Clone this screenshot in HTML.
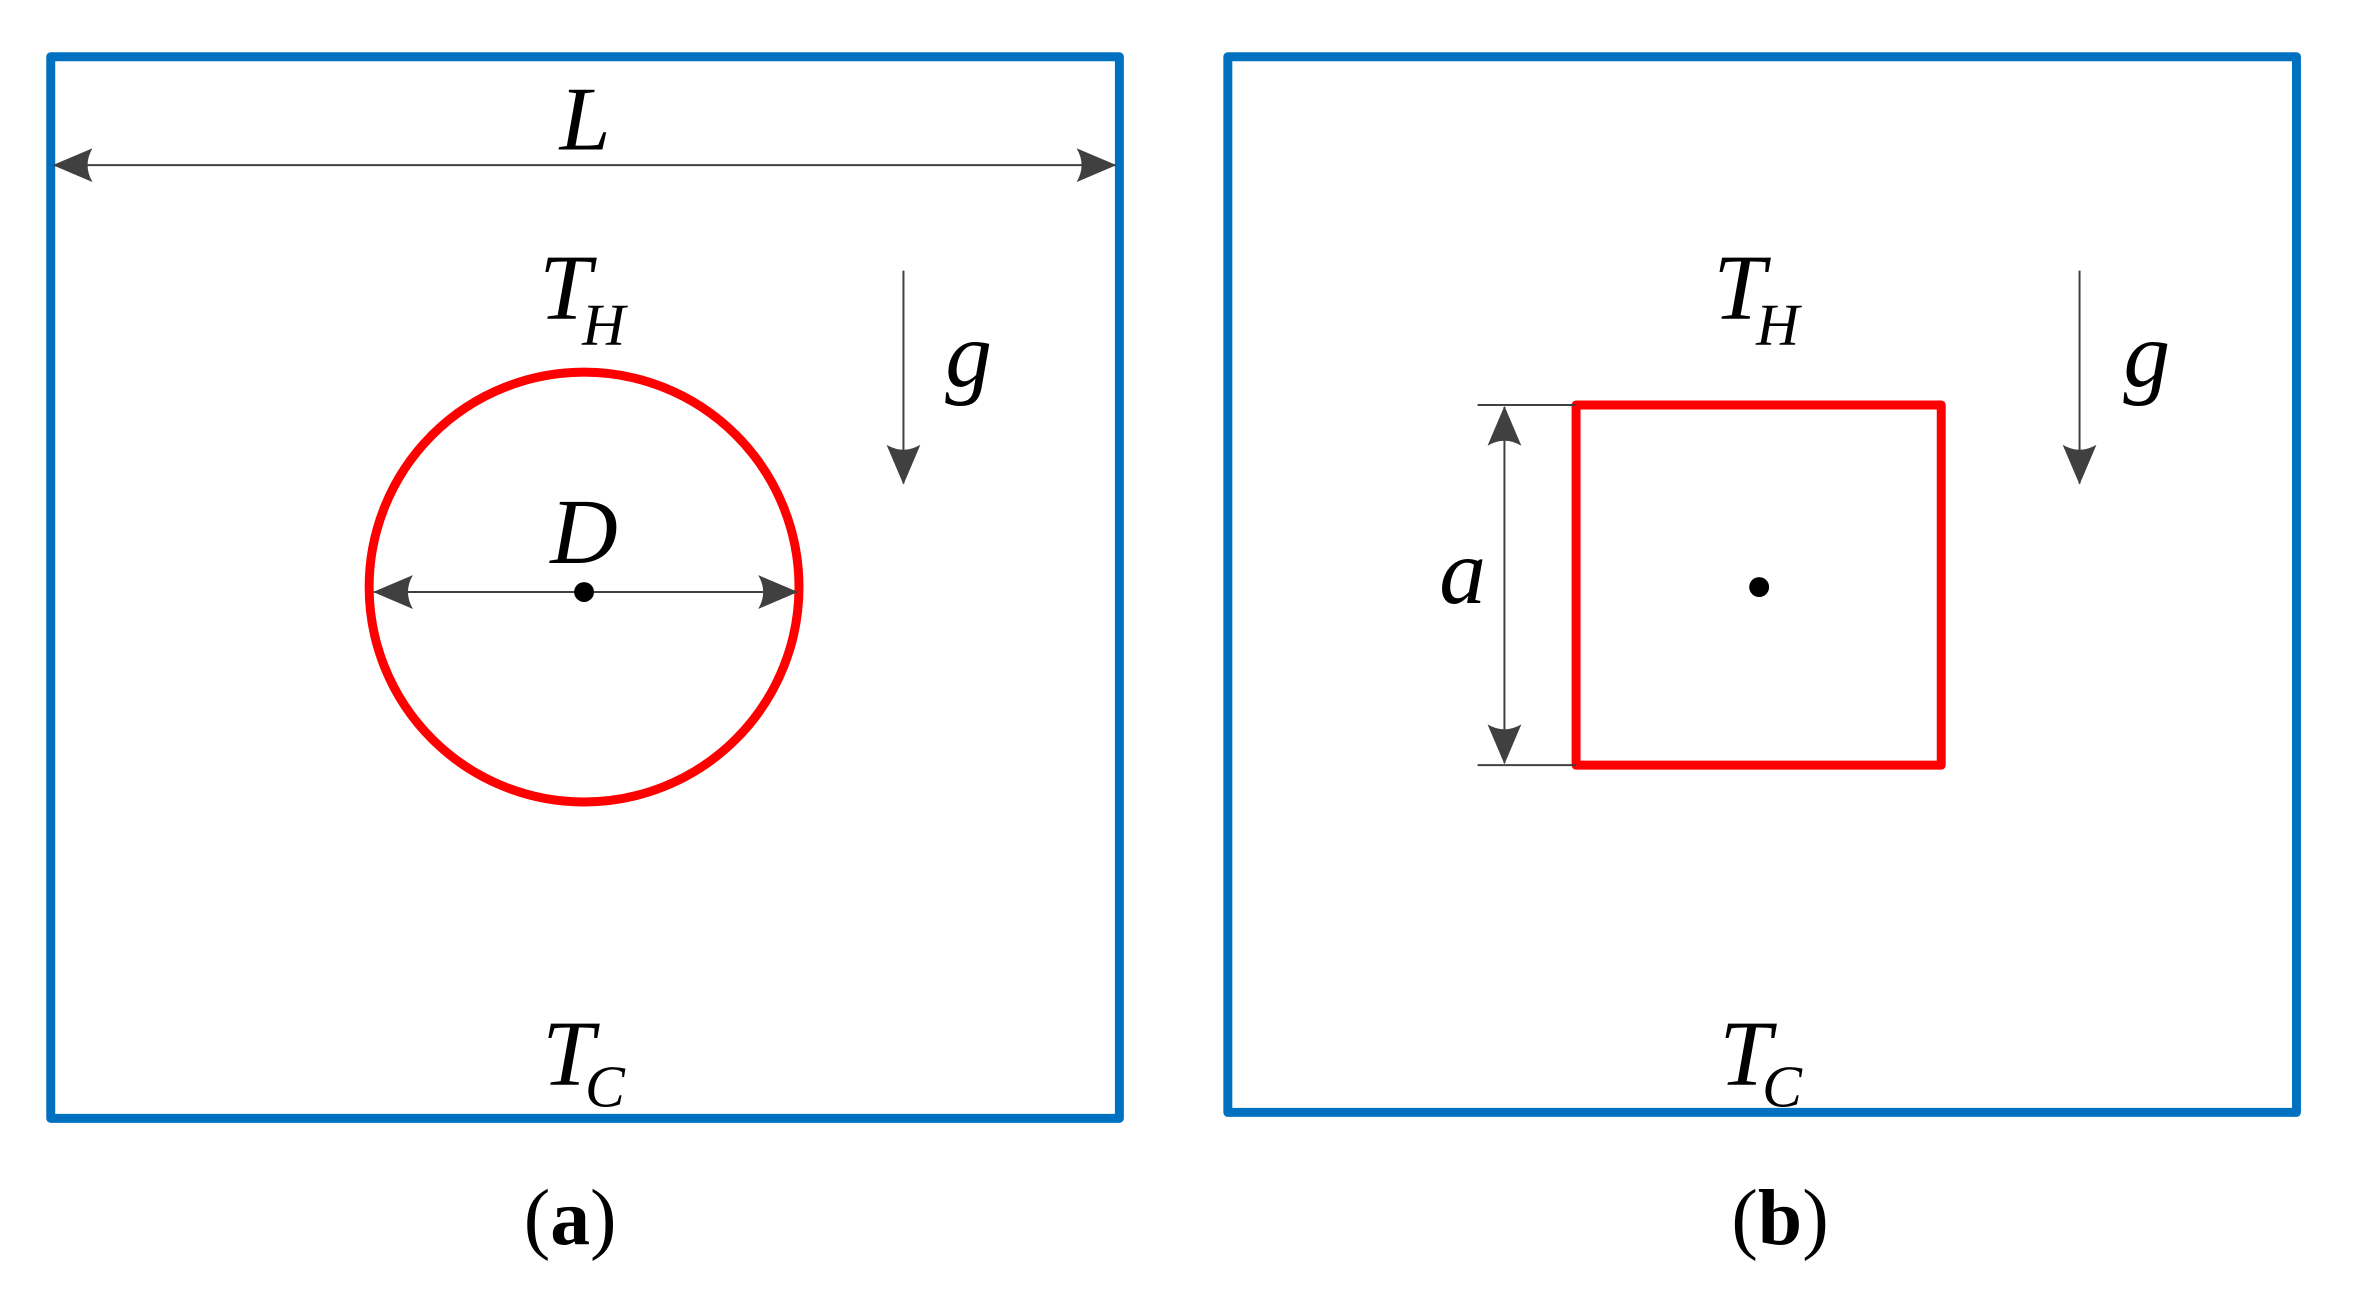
<!DOCTYPE html>
<html><head><meta charset="utf-8"><style>html,body{margin:0;padding:0;background:#fff}svg{display:block}</style></head>
<body>
<svg width="2356" height="1292" viewBox="0 0 2356 1292" xmlns="http://www.w3.org/2000/svg" font-family="Liberation Serif, serif">
<defs>
<marker id="ahb" viewBox="0 0 40 34" refX="39" refY="17" markerWidth="40" markerHeight="34" markerUnits="userSpaceOnUse" orient="auto-start-reverse">
<path d="M0,0 L40,17 L0,34 Q10,17 0,0 Z" fill="#404040"/>
</marker>
</defs>
<g transform="scale(0.995)">
<g fill="none" stroke="#0070c0" stroke-width="9" stroke-linejoin="round">
<rect x="51" y="57" width="1074" height="1067"/>
<rect x="1234" y="57" width="1074" height="1061"/>
</g>
<line x1="54" y1="166" x2="1121" y2="166" stroke="#404040" stroke-width="2" marker-start="url(#ahb)" marker-end="url(#ahb)"/>
<g font-style="italic" fill="#000">
<text x="588" y="150" font-size="92" text-anchor="middle">L</text>
<text x="542" y="320" font-size="94">T</text><text x="585" y="346" font-size="60">H</text>
<text x="545" y="1090" font-size="94">T</text><text x="588" y="1112" font-size="60">C</text>
<text x="950" y="388" font-size="94">g</text>
<text x="587" y="566" font-size="94" text-anchor="middle">D</text>
<text x="1722" y="320" font-size="94">T</text><text x="1765" y="346" font-size="60">H</text>
<text x="1728" y="1090" font-size="94">T</text><text x="1771" y="1112" font-size="60">C</text>
<text x="2134" y="388" font-size="94">g</text>
<text x="1470" y="606" font-size="94" text-anchor="middle">a</text>
</g>
<line x1="908" y1="272" x2="908" y2="486" stroke="#404040" stroke-width="2" marker-end="url(#ahb)"/>
<line x1="2090" y1="272" x2="2090" y2="486" stroke="#404040" stroke-width="2" marker-end="url(#ahb)"/>
<circle cx="587" cy="590" r="216" fill="none" stroke="#ff0000" stroke-width="9"/>
<line x1="376" y1="595" x2="801" y2="595" stroke="#404040" stroke-width="2" marker-start="url(#ahb)" marker-end="url(#ahb)"/>
<circle cx="587" cy="595" r="10" fill="#000"/>
<rect x="1584" y="407" width="367" height="362" fill="none" stroke="#ff0000" stroke-width="9" stroke-linejoin="round"/>
<line x1="1485" y1="407" x2="1584" y2="407" stroke="#404040" stroke-width="2"/>
<line x1="1485" y1="769" x2="1584" y2="769" stroke="#404040" stroke-width="2"/>
<line x1="1512" y1="409" x2="1512" y2="767" stroke="#404040" stroke-width="2" marker-start="url(#ahb)" marker-end="url(#ahb)"/>
<circle cx="1768" cy="590" r="10" fill="#000"/>
<text x="573" y="1250" font-size="80" text-anchor="middle"><tspan>(</tspan><tspan font-weight="bold">a</tspan><tspan>)</tspan></text>
<text x="1789" y="1250" font-size="80" text-anchor="middle"><tspan>(</tspan><tspan font-weight="bold">b</tspan><tspan>)</tspan></text>
</g>
</svg>
</body></html>
